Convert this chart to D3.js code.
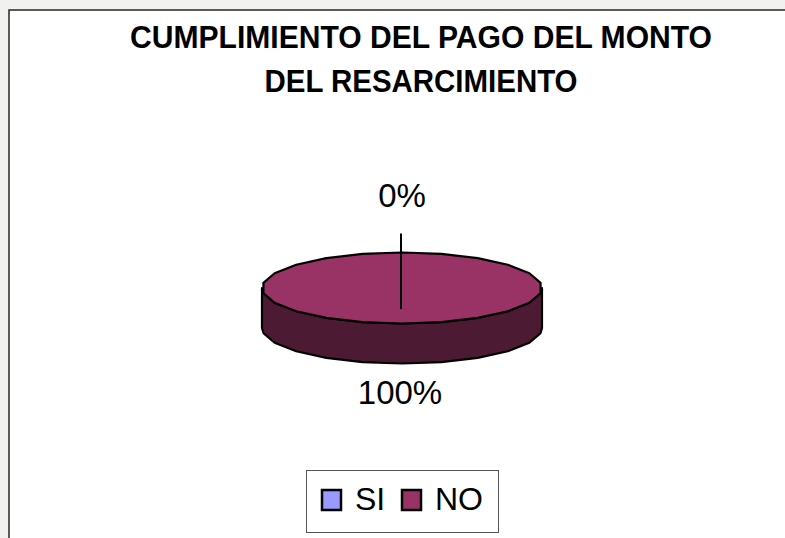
<!DOCTYPE html>
<html>
<head>
<meta charset="utf-8">
<script src="https://cdn.jsdelivr.net/npm/d3@7"></script>
<style>
  html, body { margin: 0; padding: 0; background: #ffffff; }
  svg { display: block; }
  text { font-family: "Liberation Sans", Arial, Helvetica, sans-serif; }
</style>
</head>
<body>
<svg id="chart" width="785" height="538"></svg>
<script>
// ---- data ----
const titleLines = ["CUMPLIMIENTO DEL PAGO DEL MONTO", "DEL RESARCIMIENTO"];
const categories = ["SI", "NO"];
const values = [0, 100];
const valueLabels = ["0%", "100%"];
const topColors = ["#9999FF", "#993366"];
const sideColors = ["#4D4D80", "#4D1A33"];

// ---- layout ----
const W = 785, H = 538;
const svg = d3.select("#chart");

// faint background outside the frame
svg.append("rect").attr("x", 0).attr("y", 0).attr("width", W).attr("height", H).attr("fill", "#f1f2ef");
svg.append("rect").attr("x", 9).attr("y", 10).attr("width", W + 20).attr("height", H + 20)
  .attr("fill", "#ffffff").attr("stroke", "#333333").attr("stroke-width", 1.6);

// title
const titleWidths = [582, 313];
svg.append("g").selectAll("text").data(titleLines).join("text")
  .attr("x", 421).attr("y", (d, i) => 48 + i * 44)
  .attr("text-anchor", "middle")
  .attr("font-size", 31).attr("font-weight", "bold").attr("fill", "#000")
  .attr("textLength", (d, i) => titleWidths[i]).attr("lengthAdjust", "spacingAndGlyphs")
  .text(d => d);

// pie geometry
const cx = 402, cy = 288, rx = 140, ry = 35.5, depth = 40;
const nSeg = 22;
const pie = d3.pie().sort(null).value(d => d.v);
const arcs = pie(categories.map((c, i) => ({ c, v: values[i], i })));

const px = a => cx + rx * Math.sin(a);
const py = a => cy - ry * Math.cos(a);

function ringPoints(a0, a1) {
  const pts = [];
  const step = 2 * Math.PI / nSeg;
  pts.push(a0);
  for (let k = Math.ceil(a0 / step + 1e-9); k * step < a1 - 1e-9; k++) pts.push(k * step);
  pts.push(a1);
  return pts;
}

const line = d3.line().curve(d3.curveLinearClosed);
const g = svg.append("g");

// side walls (front half only)
arcs.forEach(d => {
  const a0 = Math.max(d.startAngle, Math.PI / 2);
  const a1 = Math.min(d.endAngle, 3 * Math.PI / 2);
  if (a1 <= a0) return;
  const angs = ringPoints(a0, a1);
  const top = angs.map(a => [px(a), py(a)]);
  const bot = angs.slice().reverse().map(a => [px(a), py(a) + depth]);
  g.append("path").attr("d", line(top.concat(bot)))
    .attr("fill", sideColors[d.data.i]).attr("stroke", "#000").attr("stroke-width", 2.2)
    .attr("stroke-linejoin", "round");
});

// top faces
arcs.forEach(d => {
  if (d.endAngle - d.startAngle <= 0) return;
  const full = (d.endAngle - d.startAngle) >= 2 * Math.PI - 1e-9;
  const angs = ringPoints(d.startAngle, d.endAngle);
  let pts = angs.map(a => [px(a), py(a)]);
  if (full) pts = pts.slice(0, -1); else pts.push([cx, cy]);
  g.append("path").attr("d", line(pts))
    .attr("fill", topColors[d.data.i]).attr("stroke", "#000").attr("stroke-width", 2.2)
    .attr("stroke-linejoin", "round");
});

// leader line for the zero slice
arcs.filter(d => d.endAngle - d.startAngle === 0).forEach(d => {
  const a = d.startAngle;
  g.append("line")
    .attr("x1", px(a) - 1).attr("y1", py(a) - 19)
    .attr("x2", px(a) - 1).attr("y2", cy + 21)
    .attr("stroke", "#000").attr("stroke-width", 2);
});

// value labels
arcs.forEach(d => {
  const mid = (d.startAngle + d.endAngle) / 2;
  const below = Math.cos(mid) < 0;
  const y = below ? cy + ry + depth + 40 : cy - ry - 46;
  svg.append("text")
    .attr("x", px(mid) + (below ? -2 : 0)).attr("y", y)
    .attr("text-anchor", "middle").attr("font-size", 33).attr("fill", "#000")
    .text(valueLabels[d.data.i]);
});

// legend
const lg = svg.append("g");
lg.append("rect").attr("x", 306.5).attr("y", 470.5).attr("width", 192).attr("height", 62)
  .attr("fill", "#fff").attr("stroke", "#555").attr("stroke-width", 1);
const legX = d3.scalePoint().domain(categories).range([322, 402]);
const items = lg.selectAll("g.item").data(categories).join("g").attr("class", "item")
  .attr("transform", d => `translate(${legX(d)},490)`);
items.append("rect").attr("width", 19).attr("height", 20)
  .attr("fill", (d, i) => topColors[i]).attr("stroke", "#000").attr("stroke-width", 2.5);
items.append("text").attr("x", 33).attr("y", 20).attr("font-size", 32).attr("fill", "#000")
  .text(d => d);
</script>
</body>
</html>
